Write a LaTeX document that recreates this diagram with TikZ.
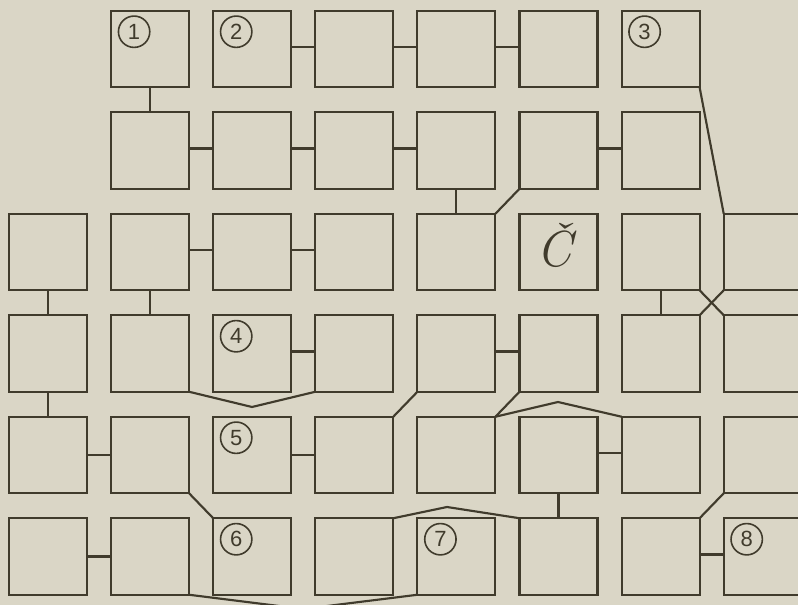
\documentclass[tikz,border=0pt]{standalone}
\usepackage{fontspec}
\newfontfamily\numfont{Liberation Sans}
\definecolor{inkc}{HTML}{403B2C}
\definecolor{paper}{HTML}{DAD6C6}
\begin{document}
\begin{tikzpicture}[x=0.75pt,y=-0.75pt,
  box/.style={draw=inkc, line width=1.6pt, rectangle, minimum width=58.5pt, minimum height=57.4pt, inner sep=0pt, outer sep=0pt},
  link/.style={draw=inkc, line width=1.6pt, line join=round},
  num/.style={draw=inkc, line width=1.2pt, circle, minimum size=23.5pt, inner sep=0pt, text=inkc, font=\numfont\fontsize{16.5}{16.5}\selectfont}]
\fill[paper] (0,0) rectangle (798,605);
\useasboundingbox (0,0) rectangle (798,605);
\clip (0,0) rectangle (798,605);
% boxes
\foreach \r in {0,1} \foreach \c in {1,...,6} {\node[box] (b\r\c) at ({48+102.1*\c},{49+101.5*\r}) {};}
\foreach \r in {2,...,5} \foreach \c in {0,...,7} {\node[box] (b\r\c) at ({48+102.1*\c},{49+101.5*\r}) {};}
% bend points
\coordinate (v1) at (252,407);
\coordinate (p1) at (558,402);
\coordinate (p2) at (447,507);
\coordinate (v2) at (303,609);
% row 0
\draw[link] ([yshift=1.5pt]b02.east) -- ([yshift=1.5pt]b03.west);
\draw[link] ([yshift=1.5pt]b03.east) -- ([yshift=1.5pt]b04.west);
\draw[link] ([yshift=1.5pt]b04.east) -- ([yshift=1.5pt]b05.west);
\draw[link] (b01.south) -- (b11.north);
\draw[link] (b06.south east) -- (b27.north west);
% row 1
\draw[link] ([yshift=1.5pt]b11.east) -- ([yshift=1.5pt]b12.west);
\draw[link] ([yshift=1.5pt]b12.east) -- ([yshift=1.5pt]b13.west);
\draw[link] ([yshift=1.5pt]b13.east) -- ([yshift=1.5pt]b14.west);
\draw[link] ([yshift=1.5pt]b15.east) -- ([yshift=1.5pt]b16.west);
\draw[link] (b14.south) -- (b24.north);
\draw[link] (b15.south west) -- (b24.north east);
% row 2
\draw[link] ([yshift=1.5pt]b21.east) -- ([yshift=1.5pt]b22.west);
\draw[link] ([yshift=1.5pt]b22.east) -- ([yshift=1.5pt]b23.west);
\draw[link] (b20.south) -- (b30.north);
\draw[link] (b21.south) -- (b31.north);
\draw[link] (b26.south) -- (b36.north);
\draw[link] (b26.south east) -- (b37.north west);
\draw[link] (b27.south west) -- (b36.north east);
% row 3
\draw[link] ([yshift=1.5pt]b32.east) -- ([yshift=1.5pt]b33.west);
\draw[link] ([yshift=1.5pt]b34.east) -- ([yshift=1.5pt]b35.west);
\draw[link] (b31.south east) -- (v1) -- (b33.south west);
\draw[link] (b30.south) -- (b40.north);
\draw[link] (b43.north east) -- (b34.south west);
\draw[link] (b35.south west) -- (b44.north east);
\draw[link] (b44.north east) -- (p1) -- (b46.north west);
% row 4
\draw[link] (b40.east) -- (b41.west);
\draw[link] (b42.east) -- (b43.west);
\draw[link] ([yshift=1.5pt]b45.east) -- ([yshift=1.5pt]b46.west);
\draw[link] (b41.south east) -- (b52.north west);
\draw[link] (b45.south) -- (b55.north);
\draw[link] (b53.north east) -- (p2) -- (b55.north west);
\draw[link] (b47.south west) -- (b56.north east);
% row 5
\draw[link] (b50.east) -- (b51.west);
\draw[link] ([yshift=1.5pt]b56.east) -- ([yshift=1.5pt]b57.west);
\draw[link] (b51.south east) -- (v2) -- (b54.south west);
% circled numbers
\node[num] (n1) at ([shift={(23,21)}]b01.north west) {1};
\node[num] (n2) at ([shift={(23,21)}]b02.north west) {2};
\node[num] (n3) at ([shift={(23,21)}]b06.north west) {3};
\node[num] (n4) at ([shift={(23,21)}]b32.north west) {4};
\node[num] (n5) at ([shift={(23,21)}]b42.north west) {5};
\node[num] (n6) at ([shift={(23,21)}]b52.north west) {6};
\node[num] (n7) at ([shift={(23,21)}]b54.north west) {7};
\node[num] (n8) at ([shift={(23,21)}]b57.north west) {8};
% letter
\node[text=inkc, font=\itshape\fontsize{38}{38}\selectfont, inner sep=0pt] (cz) at ([shift={(-4,-7)}]b25.center) {Č};
\end{tikzpicture}
\end{document}
